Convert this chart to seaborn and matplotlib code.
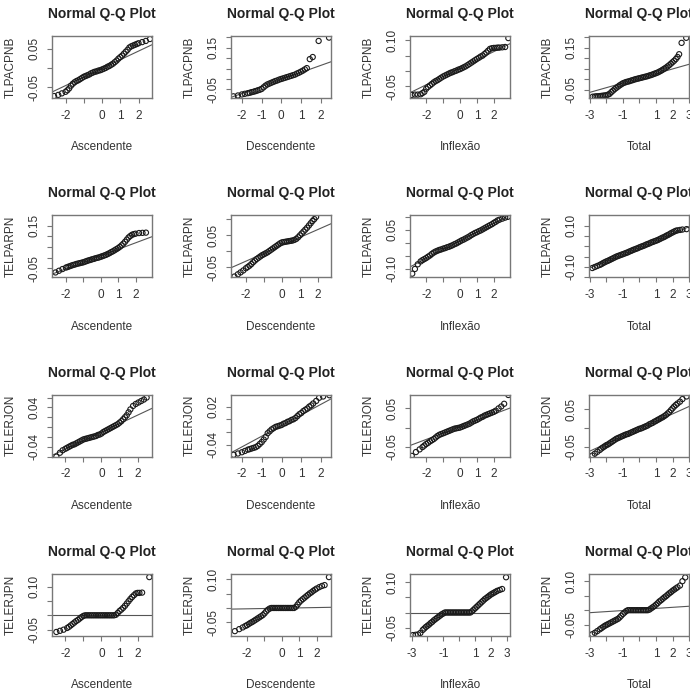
import matplotlib
matplotlib.use("Agg")
import matplotlib.pyplot as plt
import seaborn as sns
import numpy as np
import pandas as pd

# theoretical quantile (q) / sample quantile (v) pairs
tlpacpnb_asc_q = [-2.63, -2.4, -2.2, -2.0, -1.9, -1.8, -1.7, -1.6, -1.5, -1.4, -1.3, -1.2, -1.1, -1.0,
                  -0.9, -0.8, -0.7, -0.6, -0.5, -0.4, -0.3, -0.2, -0.1, 0.0, 0.1, 0.2, 0.3, 0.4, 0.5, 0.6,
                  0.7, 0.8, 0.9, 1.0, 1.1, 1.2, 1.3, 1.4, 1.5, 1.6, 1.7, 1.8, 1.9, 2.0, 2.2, 2.4, 2.63]
tlpacpnb_asc_v = [-0.073, -0.07, -0.066, -0.062, -0.058, -0.053, -0.046, -0.041, -0.037, -0.034, -0.032,
                  -0.029, -0.026, -0.023, -0.021, -0.019, -0.017, -0.014, -0.012, -0.01, -0.009, -0.007,
                  -0.006, -0.004, -0.002, 0.0, 0.003, 0.005, 0.008, 0.011, 0.015, 0.019, 0.024, 0.028,
                  0.032, 0.037, 0.042, 0.047, 0.053, 0.056, 0.058, 0.06, 0.062, 0.064, 0.067, 0.07, 0.075]
tlpacpnb_desc_q = [-2.43, -2.2, -2.0, -1.85, -1.7, -1.6, -1.5, -1.4, -1.3, -1.2, -1.1, -1.0, -0.9, -0.8,
                   -0.7, -0.6, -0.5, -0.4, -0.3, -0.2, -0.1, 0.0, 0.1, 0.2, 0.3, 0.4, 0.5, 0.6, 0.7, 0.8,
                   0.9, 1.0, 1.1, 1.2, 1.3, 1.45, 1.6, 1.9, 2.43]
tlpacpnb_desc_v = [-0.083, -0.079, -0.074, -0.071, -0.068, -0.066, -0.063, -0.061, -0.058, -0.055, -0.052,
                   -0.048, -0.04, -0.032, -0.026, -0.022, -0.018, -0.014, -0.01, -0.007, -0.003, 0.0,
                   0.003, 0.006, 0.009, 0.012, 0.015, 0.018, 0.021, 0.026, 0.03, 0.035, 0.04, 0.046, 0.052,
                   0.095, 0.105, 0.182, 0.198]
tlpacpnb_infl_q = [-2.87, -2.68, -2.51, -2.34, -2.23, -2.12, -2.01, -1.9, -1.78, -1.67, -1.56, -1.45, -1.34,
                   -1.23, -1.12, -1.0, -0.89, -0.78, -0.67, -0.56, -0.45, -0.33, -0.22, -0.11, 0.0, 0.11,
                   0.22, 0.33, 0.45, 0.56, 0.67, 0.78, 0.89, 1.0, 1.12, 1.23, 1.34, 1.45, 1.56, 1.67, 1.78,
                   1.9, 2.01, 2.12, 2.23, 2.34, 2.51, 2.68, 2.87]
tlpacpnb_infl_v = [-0.078, -0.077, -0.077, -0.076, -0.072, -0.068, -0.058, -0.052, -0.047, -0.042, -0.037,
                   -0.033, -0.03, -0.026, -0.022, -0.018, -0.015, -0.012, -0.009, -0.006, -0.004, -0.001,
                   0.001, 0.004, 0.006, 0.009, 0.012, 0.015, 0.019, 0.023, 0.027, 0.031, 0.035, 0.039,
                   0.043, 0.047, 0.05, 0.055, 0.06, 0.066, 0.072, 0.074, 0.075, 0.075, 0.076, 0.076,
                   0.077, 0.078, 0.107]
tlpacpnb_total_q = [-2.83, -2.7, -2.6, -2.5, -2.4, -2.3, -2.2, -2.1, -2.0, -1.9, -1.8, -1.7, -1.6, -1.5,
                    -1.4, -1.3, -1.2, -1.1, -1.0, -0.9, -0.8, -0.7, -0.6, -0.5, -0.4, -0.3, -0.2, -0.1,
                    0.0, 0.1, 0.2, 0.3, 0.4, 0.5, 0.6, 0.7, 0.8, 0.9, 1.0, 1.1, 1.2, 1.3, 1.4, 1.5, 1.6,
                    1.7, 1.8, 1.9, 2.0, 2.1, 2.2, 2.3, 2.4, 2.55, 2.83]
tlpacpnb_total_v = [-0.084, -0.083, -0.082, -0.082, -0.081, -0.08, -0.079, -0.078, -0.077, -0.074, -0.07,
                    -0.062, -0.055, -0.048, -0.042, -0.036, -0.03, -0.025, -0.02, -0.017, -0.014, -0.012,
                    -0.01, -0.007, -0.005, -0.002, 0.0, 0.002, 0.004, 0.006, 0.008, 0.01, 0.012, 0.014,
                    0.017, 0.019, 0.022, 0.025, 0.028, 0.031, 0.035, 0.039, 0.044, 0.049, 0.054, 0.06,
                    0.066, 0.073, 0.08, 0.087, 0.095, 0.105, 0.118, 0.172, 0.196]

telparpn_asc_q = [-2.6, -2.4, -2.2, -2.0, -1.9, -1.8, -1.7, -1.6, -1.5, -1.4, -1.3, -1.2, -1.1, -1.0,
                  -0.9, -0.8, -0.7, -0.6, -0.5, -0.4, -0.3, -0.2, -0.1, 0.0, 0.1, 0.2, 0.3, 0.4, 0.5, 0.6,
                  0.7, 0.8, 0.9, 1.0, 1.1, 1.2, 1.3, 1.4, 1.5, 1.6, 1.7, 1.8, 1.9, 2.0, 2.2, 2.4, 2.6]
telparpn_asc_v = [-0.07, -0.062, -0.054, -0.047, -0.044, -0.041, -0.038, -0.035, -0.033, -0.03, -0.028,
                  -0.026, -0.024, -0.022, -0.019, -0.016, -0.013, -0.011, -0.008, -0.006, -0.003, -0.001,
                  0.001, 0.004, 0.007, 0.01, 0.013, 0.017, 0.021, 0.026, 0.03, 0.035, 0.04, 0.045, 0.051,
                  0.058, 0.066, 0.075, 0.085, 0.095, 0.102, 0.108, 0.111, 0.113, 0.116, 0.117, 0.118]
telparpn_desc_q = [-2.64, -2.45, -2.3, -2.15, -2.0, -1.9, -1.8, -1.7, -1.6, -1.5, -1.4, -1.3, -1.2, -1.1,
                   -1.0, -0.9, -0.8, -0.7, -0.6, -0.5, -0.4, -0.3, -0.2, -0.1, 0.0, 0.1, 0.2, 0.3, 0.4,
                   0.5, 0.6, 0.7, 0.8, 0.9, 1.0, 1.1, 1.2, 1.3, 1.4, 1.5, 1.6, 1.7, 1.8, 1.9]
telparpn_desc_v = [-0.079, -0.072, -0.066, -0.06, -0.053, -0.049, -0.045, -0.04, -0.034, -0.029, -0.024,
                   -0.02, -0.016, -0.012, -0.009, -0.006, -0.003, 0.001, 0.005, 0.009, 0.013, 0.017,
                   0.021, 0.025, 0.028, 0.029, 0.03, 0.031, 0.032, 0.033, 0.034, 0.036, 0.039, 0.044,
                   0.05, 0.056, 0.062, 0.068, 0.074, 0.081, 0.088, 0.095, 0.101, 0.108]
telparpn_infl_q = [-2.84, -2.68, -2.51, -2.34, -2.23, -2.12, -2.01, -1.9, -1.78, -1.67, -1.56, -1.45, -1.34,
                   -1.23, -1.12, -1.0, -0.89, -0.78, -0.67, -0.56, -0.45, -0.33, -0.22, -0.11, 0.0, 0.11,
                   0.22, 0.33, 0.45, 0.56, 0.67, 0.78, 0.89, 1.0, 1.12, 1.23, 1.34, 1.45, 1.56, 1.67, 1.78,
                   1.9, 2.01, 2.12, 2.23, 2.34, 2.51, 2.68, 2.84]
telparpn_infl_v = [-0.118, -0.1, -0.082, -0.071, -0.066, -0.062, -0.058, -0.053, -0.048, -0.042, -0.037,
                   -0.033, -0.03, -0.027, -0.025, -0.022, -0.02, -0.017, -0.015, -0.012, -0.009, -0.005,
                   -0.002, 0.002, 0.006, 0.01, 0.013, 0.017, 0.021, 0.025, 0.03, 0.034, 0.038, 0.041,
                   0.045, 0.048, 0.052, 0.056, 0.06, 0.064, 0.068, 0.072, 0.077, 0.081, 0.086, 0.089,
                   0.093, 0.097, 0.1]
telparpn_total_q = [-2.85, -2.7, -2.55, -2.4, -2.3, -2.2, -2.1, -2.0, -1.9, -1.8, -1.7, -1.6, -1.5, -1.4,
                    -1.3, -1.2, -1.1, -1.0, -0.9, -0.8, -0.7, -0.6, -0.5, -0.4, -0.3, -0.2, -0.1, 0.0,
                    0.1, 0.2, 0.3, 0.4, 0.5, 0.6, 0.7, 0.8, 0.9, 1.0, 1.1, 1.2, 1.3, 1.4, 1.5, 1.6, 1.7,
                    1.8, 1.9, 2.0, 2.1, 2.2, 2.3, 2.45, 2.6, 2.85]
telparpn_total_v = [-0.105, -0.1, -0.095, -0.09, -0.086, -0.081, -0.077, -0.073, -0.07, -0.066, -0.062,
                    -0.058, -0.054, -0.05, -0.047, -0.044, -0.041, -0.038, -0.035, -0.032, -0.029, -0.025,
                    -0.022, -0.018, -0.015, -0.012, -0.009, -0.005, -0.002, 0.001, 0.004, 0.008, 0.011,
                    0.014, 0.018, 0.021, 0.024, 0.027, 0.03, 0.034, 0.038, 0.042, 0.045, 0.05, 0.054,
                    0.058, 0.063, 0.067, 0.071, 0.075, 0.077, 0.079, 0.081, 0.083]

telerjon_asc_q = [-2.5, -2.3, -2.15, -2.0, -1.9, -1.8, -1.7, -1.6, -1.5, -1.4, -1.3, -1.2, -1.1, -1.0,
                  -0.9, -0.8, -0.7, -0.6, -0.5, -0.4, -0.3, -0.2, -0.1, 0.0, 0.1, 0.2, 0.3, 0.4, 0.5, 0.6,
                  0.7, 0.8, 0.9, 1.0, 1.1, 1.2, 1.3, 1.4, 1.5, 1.6, 1.75, 1.9, 2.05, 2.2, 2.35, 2.5]
telerjon_asc_v = [-0.06, -0.052, -0.047, -0.044, -0.042, -0.04, -0.038, -0.036, -0.035, -0.033, -0.031,
                  -0.029, -0.027, -0.025, -0.024, -0.023, -0.022, -0.021, -0.02, -0.019, -0.018, -0.016,
                  -0.015, -0.013, -0.01, -0.008, -0.006, -0.004, -0.002, 0.0, 0.002, 0.004, 0.006, 0.009,
                  0.012, 0.016, 0.02, 0.024, 0.03, 0.036, 0.043, 0.047, 0.05, 0.053, 0.056, 0.06]
telerjon_desc_q = [-2.42, -2.2, -2.0, -1.85, -1.7, -1.6, -1.5, -1.4, -1.3, -1.2, -1.1, -1.0, -0.9, -0.8,
                   -0.7, -0.6, -0.5, -0.4, -0.3, -0.2, -0.1, 0.0, 0.1, 0.2, 0.3, 0.4, 0.5, 0.6, 0.7, 0.8,
                   0.9, 1.0, 1.1, 1.2, 1.3, 1.4, 1.5, 1.6, 1.75, 1.9, 2.1, 2.42]
telerjon_desc_v = [-0.056, -0.054, -0.052, -0.05, -0.048, -0.047, -0.046, -0.045, -0.044, -0.042, -0.039,
                   -0.036, -0.032, -0.028, -0.022, -0.019, -0.016, -0.014, -0.012, -0.011, -0.01, -0.009,
                   -0.007, -0.006, -0.004, -0.003, -0.001, 0.0, 0.002, 0.005, 0.008, 0.01, 0.013, 0.015,
                   0.017, 0.02, 0.022, 0.025, 0.029, 0.034, 0.036, 0.038]
telerjon_infl_q = [-2.87, -2.62, -2.4, -2.23, -2.12, -2.01, -1.9, -1.78, -1.67, -1.56, -1.45, -1.34, -1.23,
                   -1.12, -1.0, -0.89, -0.78, -0.67, -0.56, -0.45, -0.33, -0.22, -0.11, 0.0, 0.11, 0.22,
                   0.33, 0.45, 0.56, 0.67, 0.78, 0.89, 1.0, 1.12, 1.23, 1.34, 1.45, 1.56, 1.67, 1.78, 1.9,
                   2.01, 2.12, 2.29, 2.45, 2.62, 2.87]
telerjon_infl_v = [-0.074, -0.064, -0.057, -0.051, -0.047, -0.043, -0.04, -0.036, -0.033, -0.03, -0.026,
                   -0.022, -0.019, -0.017, -0.015, -0.013, -0.011, -0.009, -0.007, -0.005, -0.003, -0.002,
                   -0.001, 0.0, 0.002, 0.004, 0.006, 0.008, 0.01, 0.013, 0.016, 0.018, 0.02, 0.023, 0.026,
                   0.028, 0.031, 0.033, 0.035, 0.037, 0.039, 0.041, 0.044, 0.05, 0.055, 0.062, 0.085]
telerjon_total_q = [-2.85, -2.7, -2.55, -2.4, -2.3, -2.2, -2.1, -2.0, -1.9, -1.8, -1.7, -1.6, -1.5, -1.4,
                    -1.3, -1.2, -1.1, -1.0, -0.9, -0.8, -0.7, -0.6, -0.5, -0.4, -0.3, -0.2, -0.1, 0.0,
                    0.1, 0.2, 0.3, 0.4, 0.5, 0.6, 0.7, 0.8, 0.9, 1.0, 1.1, 1.2, 1.3, 1.4, 1.5, 1.6, 1.7,
                    1.8, 1.9, 2.0, 2.1, 2.2, 2.3, 2.45, 2.6, 2.85]
telerjon_total_v = [-0.074, -0.069, -0.064, -0.059, -0.055, -0.052, -0.049, -0.046, -0.044, -0.041, -0.038,
                    -0.035, -0.032, -0.029, -0.027, -0.025, -0.023, -0.021, -0.019, -0.017, -0.016, -0.014,
                    -0.012, -0.01, -0.008, -0.006, -0.004, -0.002, -0.001, 0.001, 0.003, 0.005, 0.007,
                    0.01, 0.012, 0.014, 0.017, 0.019, 0.022, 0.024, 0.027, 0.029, 0.032, 0.035, 0.039,
                    0.043, 0.048, 0.053, 0.058, 0.062, 0.066, 0.071, 0.078, 0.085]

telerjpn_asc_q = [-2.5, -2.3, -2.1, -1.9, -1.8, -1.7, -1.6, -1.5, -1.4, -1.3, -1.2, -1.1, -1.0, -0.9, -0.8,
                  -0.7, -0.6, -0.5, -0.4, -0.3, -0.2, -0.1, 0.0, 0.1, 0.2, 0.3, 0.4, 0.5, 0.6, 0.7, 0.8,
                  0.9, 1.0, 1.1, 1.2, 1.3, 1.4, 1.5, 1.6, 1.7, 1.8, 1.9, 2.0, 2.1, 2.25, 2.65]
telerjpn_asc_v = [-0.058, -0.054, -0.05, -0.044, -0.04, -0.035, -0.03, -0.025, -0.02, -0.016, -0.011,
                  -0.006, -0.002, 0.0, 0.0, 0.0, 0.0, 0.0, 0.0, 0.0, 0.0, 0.0, 0.0, 0.0, 0.0, 0.0, 0.0,
                  0.0, 0.0, 0.0, 0.002, 0.008, 0.015, 0.02, 0.026, 0.033, 0.041, 0.049, 0.057, 0.064,
                  0.07, 0.076, 0.078, 0.078, 0.079, 0.133]
telerjpn_desc_q = [-2.7, -2.45, -2.25, -2.1, -2.0, -1.9, -1.8, -1.7, -1.6, -1.5, -1.4, -1.3, -1.2, -1.1,
                   -1.0, -0.9, -0.8, -0.7, -0.6, -0.5, -0.4, -0.3, -0.2, -0.1, 0.0, 0.1, 0.2, 0.3, 0.4,
                   0.5, 0.6, 0.7, 0.8, 0.9, 1.0, 1.1, 1.2, 1.3, 1.4, 1.5, 1.6, 1.7, 1.8, 1.9, 2.0, 2.15,
                   2.3, 2.45, 2.7]
telerjpn_desc_v = [-0.081, -0.074, -0.068, -0.063, -0.06, -0.056, -0.052, -0.049, -0.045, -0.041, -0.037,
                   -0.033, -0.029, -0.025, -0.019, -0.012, -0.006, -0.002, 0.0, 0.0, 0.0, 0.0, 0.0, 0.0,
                   0.0, 0.0, 0.0, 0.0, 0.0, 0.0, 0.0, 0.0, 0.004, 0.012, 0.02, 0.026, 0.031, 0.036,
                   0.041, 0.046, 0.051, 0.055, 0.06, 0.064, 0.068, 0.073, 0.077, 0.08, 0.108]
telerjpn_infl_q = [-2.92, -2.75, -2.6, -2.45, -2.3, -2.2, -2.1, -2.0, -1.9, -1.8, -1.7, -1.6, -1.5, -1.4,
                   -1.3, -1.2, -1.1, -1.0, -0.9, -0.8, -0.7, -0.6, -0.5, -0.4, -0.3, -0.2, -0.1, 0.0, 0.1,
                   0.2, 0.3, 0.4, 0.5, 0.6, 0.7, 0.8, 0.9, 1.0, 1.1, 1.2, 1.3, 1.4, 1.5, 1.6, 1.7, 1.8,
                   1.9, 2.0, 2.1, 2.2, 2.3, 2.4, 2.55, 2.7, 2.95]
telerjpn_infl_v = [-0.075, -0.074, -0.073, -0.068, -0.058, -0.053, -0.048, -0.044, -0.04, -0.035, -0.031,
                   -0.026, -0.022, -0.018, -0.014, -0.01, -0.006, -0.003, 0.0, 0.0, 0.0, 0.0, 0.0, 0.0,
                   0.0, 0.0, 0.0, 0.0, 0.0, 0.0, 0.0, 0.0, 0.0, 0.0, 0.0, 0.004, 0.009, 0.014, 0.019,
                   0.024, 0.029, 0.034, 0.039, 0.044, 0.048, 0.052, 0.056, 0.06, 0.063, 0.066, 0.069,
                   0.072, 0.075, 0.078, 0.117]
telerjpn_total_q = [-2.86, -2.7, -2.55, -2.4, -2.3, -2.2, -2.1, -2.0, -1.9, -1.8, -1.7, -1.6, -1.5, -1.4,
                    -1.3, -1.2, -1.1, -1.0, -0.9, -0.8, -0.7, -0.6, -0.5, -0.4, -0.3, -0.2, -0.1, 0.0,
                    0.1, 0.2, 0.3, 0.4, 0.5, 0.6, 0.7, 0.8, 0.9, 1.0, 1.1, 1.2, 1.3, 1.4, 1.5, 1.6, 1.7,
                    1.8, 1.9, 2.0, 2.1, 2.2, 2.3, 2.45, 2.6, 2.77]
telerjpn_total_v = [-0.083, -0.078, -0.072, -0.066, -0.062, -0.058, -0.054, -0.051, -0.048, -0.045, -0.042,
                    -0.039, -0.036, -0.033, -0.03, -0.025, -0.019, -0.013, -0.008, -0.003, 0.0, 0.0, 0.0,
                    0.0, 0.0, 0.0, 0.0, 0.0, 0.0, 0.0, 0.0, 0.0, 0.0, 0.002, 0.006, 0.01, 0.014, 0.019,
                    0.024, 0.03, 0.034, 0.039, 0.044, 0.048, 0.053, 0.058, 0.062, 0.067, 0.071, 0.075,
                    0.079, 0.085, 0.1, 0.113]

row_names = ["TLPACPNB", "TELPARPN", "TELERJON", "TELERJPN"]
col_names = ["Ascendente", "Descendente", "Inflexão", "Total"]

series = [
    [(tlpacpnb_asc_q, tlpacpnb_asc_v), (tlpacpnb_desc_q, tlpacpnb_desc_v),
     (tlpacpnb_infl_q, tlpacpnb_infl_v), (tlpacpnb_total_q, tlpacpnb_total_v)],
    [(telparpn_asc_q, telparpn_asc_v), (telparpn_desc_q, telparpn_desc_v),
     (telparpn_infl_q, telparpn_infl_v), (telparpn_total_q, telparpn_total_v)],
    [(telerjon_asc_q, telerjon_asc_v), (telerjon_desc_q, telerjon_desc_v),
     (telerjon_infl_q, telerjon_infl_v), (telerjon_total_q, telerjon_total_v)],
    [(telerjpn_asc_q, telerjpn_asc_v), (telerjpn_desc_q, telerjpn_desc_v),
     (telerjpn_infl_q, telerjpn_infl_v), (telerjpn_total_q, telerjpn_total_v)],
]

# axis setup per panel: ylim, y ticks, which y ticks carry a label
y_axes = [
    [((-0.078, 0.083), [-0.05, 0, 0.05], ["-0.05", "", "0.05"]),
     ((-0.091, 0.206), [-0.05, 0, 0.05, 0.10, 0.15, 0.20], ["-0.05", "", "", "", "0.15", ""]),
     ((-0.088, 0.114), [-0.05, 0, 0.05, 0.10], ["-0.05", "", "", "0.10"]),
     ((-0.09, 0.205), [-0.05, 0, 0.05, 0.10, 0.15, 0.20], ["-0.05", "", "", "", "0.15", ""])],
    [((-0.093, 0.2), [-0.05, 0, 0.05, 0.10, 0.15], ["-0.05", "", "", "", "0.15"]),
     ((-0.0815, 0.113), [-0.05, 0, 0.05, 0.10], ["-0.05", "", "0.05", ""]),
     ((-0.132, 0.106), [-0.10, -0.05, 0, 0.05, 0.10], ["-0.10", "", "", "0.05", ""]),
     ((-0.15, 0.15), [-0.15, -0.10, -0.05, 0, 0.05, 0.10], ["", "-0.10", "", "", "", "0.10"])],
    [((-0.06, 0.066), [-0.06, -0.04, -0.02, 0, 0.02, 0.04, 0.06], ["", "-0.04", "", "", "", "0.04", ""]),
     ((-0.059, 0.039), [-0.04, -0.02, 0, 0.02], ["-0.04", "", "", "0.02"]),
     ((-0.076, 0.086), [-0.05, 0, 0.05], ["-0.05", "", "0.05"]),
     ((-0.077, 0.09), [-0.05, 0, 0.05], ["-0.05", "", "0.05"])],
    [((-0.072, 0.144), [-0.05, 0, 0.05, 0.10], ["-0.05", "", "", "0.10"]),
     ((-0.098, 0.119), [-0.05, 0, 0.05, 0.10], ["-0.05", "", "", "0.10"]),
     ((-0.078, 0.128), [-0.05, 0, 0.05, 0.10], ["-0.05", "", "", "0.10"]),
     ((-0.089, 0.125), [-0.05, 0, 0.05, 0.10], ["-0.05", "", "", "0.10"])],
]

x_two = ([-2, -1, 0, 1, 2], ["-2", "", "0", "1", "2"])
x_two_all = ([-2, -1, 0, 1, 2], ["-2", "-1", "0", "1", "2"])
x_three = ([-3, -2, -1, 0, 1, 2, 3], ["-3", "", "-1", "", "1", "2", "3"])
x_axes = [
    [((-2.74, 2.74), x_two), ((-2.55, 2.53), x_two_all), ((-2.97, 2.97), x_two), ((-3.05, 3.0), x_three)],
    [((-2.8, 2.95), x_two), ((-2.83, 2.73), x_two), ((-2.97, 2.97), x_two), ((-3.05, 3.0), x_three)],
    [((-2.74, 2.8), x_two), ((-2.55, 2.5), x_two_all), ((-2.97, 2.97), x_two), ((-3.05, 3.0), x_three)],
    [((-2.74, 2.8), x_two), ((-2.92, 2.82), x_two), ((-3.1, 3.2), x_three), ((-3.05, 3.0), x_three)],
]

sns.set_style("white")
plt.rcParams["font.family"] = ["Liberation Sans", "DejaVu Sans"]
ink = "#333333"
frame = "#777777"

fig, axes = plt.subplots(4, 4, figsize=(6.9, 6.91), dpi=100)
fig.subplots_adjust(left=0.0754, right=0.9986, top=0.948, bottom=0.0796,
                    wspace=0.79, hspace=1.89)

for r in range(4):
    for c in range(4):
        ax = axes[r, c]
        q, v = series[r][c]
        if len(q) != len(v):
            raise ValueError(f"length mismatch {row_names[r]} {col_names[c]}: {len(q)} vs {len(v)}")
        df = pd.DataFrame({"q": q, "v": v})
        sns.scatterplot(data=df, x="q", y="v", ax=ax, marker="o", s=14,
                        facecolor="none", edgecolor="#1a1a1a", linewidth=0.8,
                        legend=False, zorder=2)
        # reference line through the quartiles, like qqline()
        q1 = np.interp(-0.6745, q, v)
        q3 = np.interp(0.6745, q, v)
        slope = (q3 - q1) / (2 * 0.6745)
        ax.axline((0, (q1 + q3) / 2), slope=slope, color="#555555", lw=0.8, zorder=1)

        (ylo, yhi), yt, ylab = y_axes[r][c]
        (xlo, xhi), (xt, xlab) = x_axes[r][c]
        ax.set_xlim(xlo, xhi)
        ax.set_ylim(ylo, yhi)
        ax.set_xticks(xt)
        ax.set_xticklabels(xlab)
        ax.set_yticks(yt)
        ax.set_yticklabels(ylab, rotation=90, va="center")
        ax.tick_params(direction="out", length=3.5, width=0.8, color=frame,
                       labelsize=8.5, labelcolor=ink, pad=5,
                       bottom=True, left=True)
        for sp in ax.spines.values():
            sp.set_visible(True)
            sp.set_color(frame)
            sp.set_linewidth(1.0)
        ax.set_title("Normal Q-Q Plot", fontsize=10, fontweight="bold",
                     color="#222222", pad=13)
        ax.set_xlabel(col_names[c], fontsize=8.5, color=ink, labelpad=14)
        ax.set_ylabel(row_names[r], fontsize=8.5, color=ink, labelpad=8)

fig.savefig("out.png", dpi=100, facecolor="white")
